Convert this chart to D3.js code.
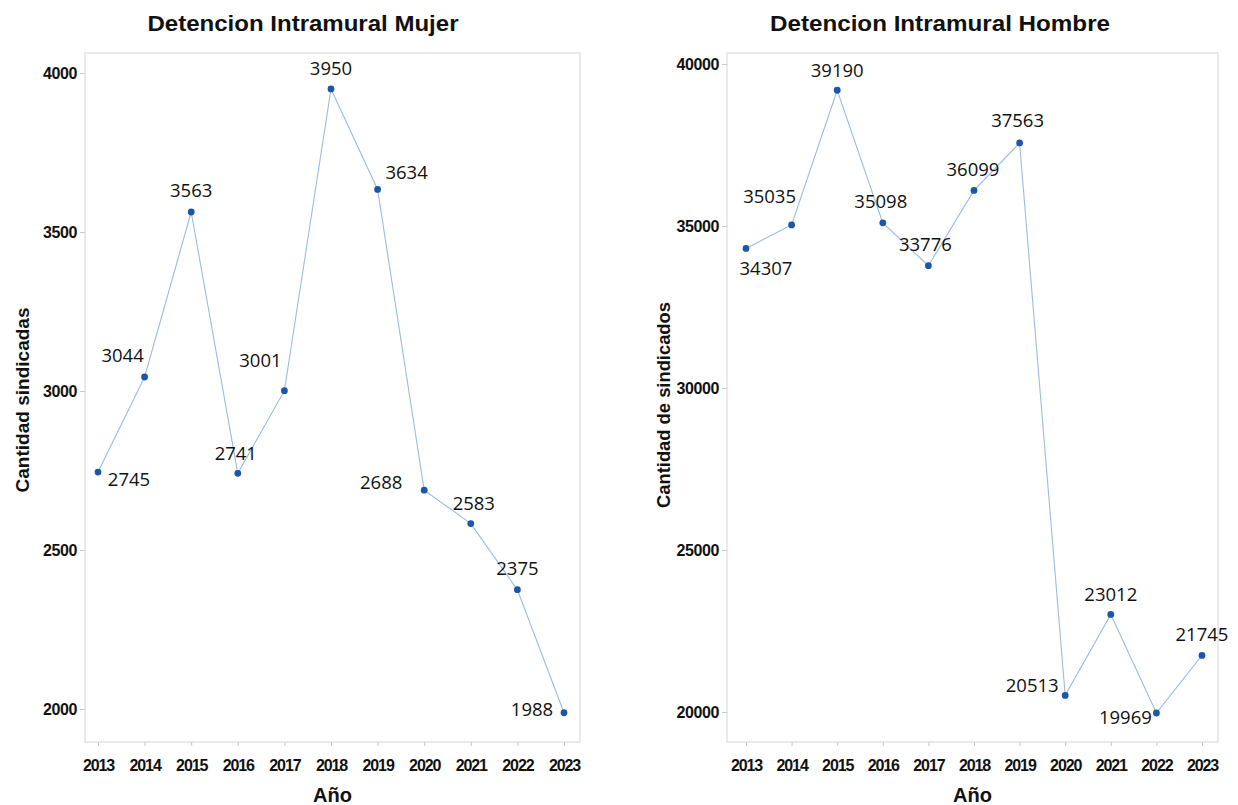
<!DOCTYPE html>
<html><head><meta charset="utf-8">
<script src="https://cdn.jsdelivr.net/npm/d3@7"></script>
<style>body{margin:0;background:#fff}svg{display:block}</style>
</head><body>
<svg id="c" width="1238" height="805"></svg>
<script>
const years = [2013,2014,2015,2016,2017,2018,2019,2020,2021,2022,2023];
const mujerValues = [2745,3044,3563,2741,3001,3950,3634,2688,2583,2375,1988];
const hombreValues = [34307,35035,39190,35098,33776,36099,37563,20513,23012,19969,21745];
const mujerTicks = [2000,2500,3000,3500,4000];
const hombreTicks = [20000,25000,30000,35000,40000];
// label placement (offset of label centre from its point), annotation layout only
const mujerLabelOffsets = [[31,6],[-22,-22],[0,-22],[-2,-21],[-24,-31],[0,-21],[29,-18],[-43,-9],[3,-21],[0,-22],[-32,-4]];
const hombreLabelOffsets = [[20,19],[-22,-29],[0,-21],[-2,-22],[-3,-22],[-1,-22],[-2,-23],[-33,-11],[0,-21],[-31,3],[0,-22]];

const svg = d3.select("#c");
const boldFont = "Liberation Sans, Arial, sans-serif";

function panel(o){
  const g = svg.append("g");
  const x = d3.scaleLinear().domain([2013,2023]).range([o.left+o.padL, o.right-o.padR]);
  const y = d3.scaleLinear().domain(o.ydom).range([o.bottom, o.top]);
  g.append("rect").attr("x",o.left).attr("y",o.top).attr("width",o.right-o.left).attr("height",o.bottom-o.top)
    .attr("fill","none").attr("stroke","#dcdcdc").attr("stroke-width",1.2);
  const ya = g.append("g").attr("transform",`translate(${o.left},0)`)
    .call(d3.axisLeft(y).tickValues(o.ticks).tickSize(5).tickPadding(3).tickFormat(d3.format("d")));
  ya.select(".domain").remove();
  ya.selectAll("line").attr("stroke","#c8c8c8");
  ya.selectAll("text").attr("font-family",boldFont).attr("font-weight","bold")
    .attr("font-size",16).attr("letter-spacing",-0.4).attr("fill","#111");
  const xa = g.append("g").attr("transform",`translate(0,${o.bottom})`)
    .call(d3.axisBottom(x).tickValues(years).tickSize(4).tickPadding(14).tickFormat(d3.format("d")));
  xa.select(".domain").remove();
  xa.selectAll("line").attr("stroke","#c8c8c8");
  xa.selectAll("text").attr("font-family",boldFont).attr("font-weight","bold")
    .attr("font-size",16).attr("letter-spacing",-1.1).attr("fill","#111");
  const data = years.map((yr,i)=>({yr,v:o.values[i],off:o.offsets[i]}));
  g.append("path").datum(data).attr("fill","none").attr("stroke","#9bbce0").attr("stroke-width",1.1)
    .attr("d",d3.line().x(d=>x(d.yr)).y(d=>y(d.v)));
  g.selectAll("circle.pt").data(data).join("circle").attr("class","pt")
    .attr("cx",d=>x(d.yr)).attr("cy",d=>y(d.v)).attr("r",3.4).attr("fill","#1b57a6");
  g.selectAll("text.lbl").data(data).join("text").attr("class","lbl")
    .attr("x",d=>x(d.yr)+d.off[0]).attr("y",d=>y(d.v)+d.off[1])
    .attr("text-anchor","middle").attr("dominant-baseline","central")
    .attr("font-family","Open Sans, Noto Sans, sans-serif").attr("font-size",18.5).attr("fill","#111")
    .text(d=>d.v);
  g.append("text").attr("x",o.titleX).attr("y",23).attr("text-anchor","middle").attr("dominant-baseline","central")
    .attr("font-family",boldFont).attr("font-weight","bold").attr("font-size",22).attr("fill","#111")
    .attr("textLength",o.titleLen).attr("lengthAdjust","spacingAndGlyphs").text(o.title);
  g.append("text").attr("x",(o.left+o.right)/2).attr("y",795).attr("text-anchor","middle").attr("dominant-baseline","central")
    .attr("font-family",boldFont).attr("font-weight","bold").attr("font-size",20).attr("fill","#111")
    .text("Año");
  g.append("text").attr("transform",`translate(${o.yTitleX},${o.yTitleY}) rotate(-90)`).attr("text-anchor","middle")
    .attr("dominant-baseline","central")
    .attr("font-family",boldFont).attr("font-weight","bold").attr("font-size",19).attr("fill","#111")
    .attr("textLength",o.yTitleLen).attr("lengthAdjust","spacingAndGlyphs")
    .text(o.yTitle);
}

panel({left:85,right:580,top:53,bottom:742,padL:13,padR:16,ydom:[1896,4063],ticks:mujerTicks,values:mujerValues,
  offsets:mujerLabelOffsets,title:"Detencion Intramural Mujer",titleX:303,titleLen:311,
  yTitle:"Cantidad sindicadas",yTitleX:22,yTitleY:400,yTitleLen:185});
panel({left:727,right:1218,top:53,bottom:742,padL:19,padR:16,ydom:[19074,40340],ticks:hombreTicks,values:hombreValues,
  offsets:hombreLabelOffsets,title:"Detencion Intramural Hombre",titleX:940,titleLen:340,
  yTitle:"Cantidad de sindicados",yTitleX:663,yTitleY:405,yTitleLen:206});
</script>
</body></html>
